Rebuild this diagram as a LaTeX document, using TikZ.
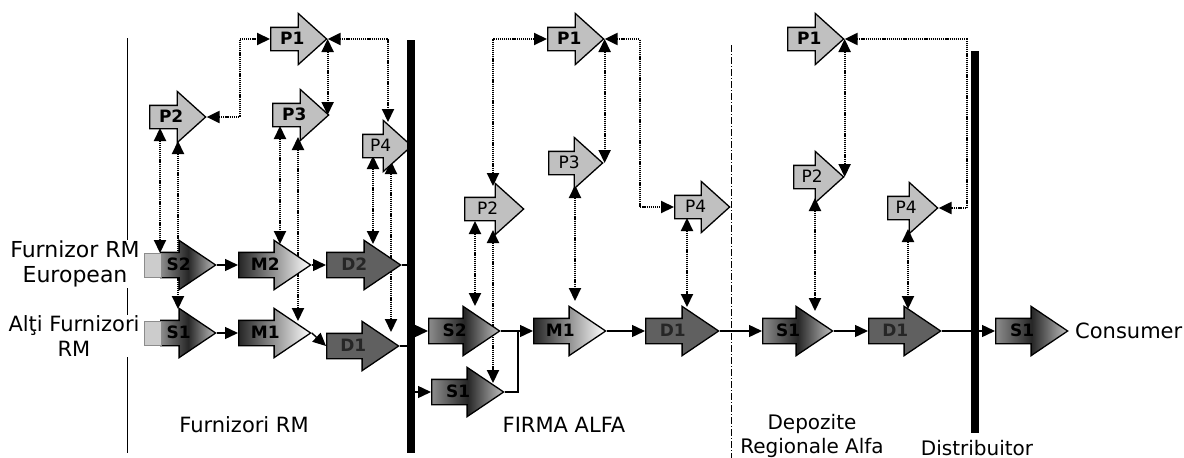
\documentclass[tikz,border=0pt]{standalone}
\usepackage{fontspec}
\setmainfont{DejaVu Sans}
\usetikzlibrary{shapes.arrows, arrows.meta, positioning, calc, backgrounds}
\definecolor{pgray}{RGB}{192,192,192}
\definecolor{dgray}{RGB}{96,96,96}
\tikzset{
  blk/.style={single arrow, draw=black, line width=1.3pt, anchor=tail, inner xsep=2pt, inner ysep=6pt,
    text height=11pt, text depth=1pt,
    minimum width=48pt, single arrow head extend=12pt, single arrow tip angle=68,
    font=\bfseries\fontsize{17}{17}\selectfont},
  pblk/.style={blk, fill=pgray, minimum height=56pt, inner ysep=5pt, minimum width=50pt,
    single arrow head extend=14pt, single arrow tip angle=84},
  sblk/.style={blk, minimum height=72pt, left color=black!45, right color=black!25, middle color=black!85},
  mblk/.style={blk, minimum height=72pt, left color=black!85, right color=white},
  dblk/.style={blk, minimum height=73pt, fill=dgray, text=black!85},
  plain/.style={font=\fontsize{17}{17}\selectfont},
  flow/.style={line width=1.4pt, -{Triangle[length=13pt,width=12pt]}},
  dlink/.style={line width=2.1pt, dash pattern=on 1.2pt off 0.9pt,
    {Triangle[length=13pt,width=12pt]}-{Triangle[length=13pt,width=12pt]}},
  bar/.style={fill=black, inner sep=0pt, minimum width=8pt},
  lbl/.style={font=\fontsize{20}{24}\selectfont, align=center, fill=white, inner sep=1pt}
}

\begin{document}
\begin{tikzpicture}[x=1pt, y=-1pt]
  \useasboundingbox (0,0) rectangle (1184,458);

  % boundary lines
  \draw[line width=0.8pt] (127,38) -- (127,453);
  \draw[line width=0.8pt, dash pattern=on 7pt off 2pt on 1pt off 2pt] (731,45) -- (731,458);

  % Furnizori RM
  \node[pblk] (fp1) at (270,39) {P1};
  \node[pblk] (fp2) at (149,117) {P2};
  \node[pblk] (fp3) at (272,115) {P3};
  \node[pblk, plain, minimum height=49pt] (fp4) at (362,146) {P4};
  \node[sblk, minimum height=55pt, inner xsep=0pt] (fs2) at (160,265) {S2};
  \node[sblk, minimum height=55pt, inner xsep=0pt] (fs1) at (160,333) {S1};
  \node[mblk] (fm2) at (238,265) {M2};
  \node[mblk] (fm1) at (238,333) {M1};
  \node[dblk, minimum height=74pt] (fd2) at (326,265) {D2};
  \node[dblk, minimum height=72pt] (fd1) at (326,346) {D1};
  \filldraw[fill=black!20, draw=black!45, line width=1pt] ($(fs2.tail)+(-16,-12)$) rectangle ($(fs2.tail)+(1,12)$);
  \filldraw[fill=black!20, draw=black!45, line width=1pt] ($(fs1.tail)+(-16,-12)$) rectangle ($(fs1.tail)+(1,12)$);

  % FIRMA ALFA
  \node[pblk] (ap1) at (547,39) {P1};
  \node[pblk, plain, minimum height=59pt] (ap2) at (464,209) {P2};
  \node[pblk, plain, minimum height=54pt] (ap3) at (548,163) {P3};
  \node[pblk, plain, minimum height=55pt] (ap4) at (674,207) {P4};
  \node[sblk, minimum height=71pt] (as2) at (428,331) {S2};
  \node[sblk] (as1) at (431,392) {S1};
  \node[mblk] (am1) at (533,331) {M1};
  \node[dblk] (ad1) at (645,331) {D1};

  % Depozite Regionale Alfa
  \node[pblk] (dp1) at (787,39) {P1};
  \node[pblk, plain, minimum height=50pt] (dp2) at (793,177) {P2};
  \node[pblk, plain, minimum height=50pt] (dp4) at (887,208) {P4};
  \node[sblk, minimum height=70pt] (ds1) at (762,331) {S1};
  \node[dblk, minimum height=72pt] (dd1) at (868,331) {D1};

  % Distribuitor
  \node[sblk] (cs1) at (995,331) {S1};

  % bars
  \node[bar, minimum height=413pt] (bar1) at (411,246.5) {};
  \node[bar, minimum height=382pt] (bar2) at (975,242) {};

  \begin{scope}[on background layer]
    \draw[dlink] (fp2.tip) -- ++(33,0) |- (fp1.tail);
    \draw[dlink] (fp1.tip) -- (fp1.tip |- fp3.tip);
    \draw[dlink] (fp1.tip) -| ($(fp4.tail)+(26,-24)$);
    \draw[dlink] ($(fp2.tail)+(11,11)$) -- ($(fs2.tail)+(0,-12)$);
    \draw[dlink] ($(fp2.tail)+(29,24)$) -- ($(fs1.tail)+(18,-24)$);
    \draw[dlink] ($(fp3.tail)+(8,11)$) -- ($(fm2.tail)+(42,-21)$);
    \draw[dlink] ($(fp3.tail)+(26,22)$) -- ($(fm1.tail)+(60,-12)$);
    \draw[dlink] ($(fp4.tail)+(11,10)$) -- ($(fd2.tail)+(47,-21)$);
    \draw[dlink] ($(fp4.tail)+(29,15)$) -- ($(fd1.tail)+(65,-14)$);

    \draw[dlink] (ap1.tail) -| ($(ap2.tail)+(29,-23)$);
    \draw[dlink] (ap1.tip) -- (ap1.tip |- ap3.tip);
    \draw[dlink] (ap1.tip) -- ++(35,0) |- (ap4.tail);
    \draw[dlink] ($(ap2.tail)+(11,12)$) -- ($(as2.tail)+(47,-25)$);
    \draw[dlink] ($(ap2.tail)+(29,21)$) -- ($(as1.tail)+(62,-9)$);
    \draw[dlink] ($(ap3.tail)+(27,22)$) -- ($(am1.tail)+(42,-30)$);
    \draw[dlink] ($(ap4.tail)+(13,11)$) -- ($(ad1.tail)+(42,-24)$);

    \draw[dlink] (dp1.tip) -- (dp1.tip |- dp2.tip);
    \draw[dlink] (dp1.tip) -- ++(122,0) |- (dp4.tip);
    \draw[dlink] ($(dp2.tail)+(22,21)$) -- ($(ds1.tail)+(53,-20)$);
    \draw[dlink] ($(dp4.tail)+(21,21)$) -- ($(dd1.tail)+(40,-22)$);

    \coordinate (join) at ($(am1.tail)+(-15,0)$);
    \draw[line width=1.4pt] (as2.tip) -- (join);
    \draw[line width=1.4pt] (as1.tip) -| (join);
    \draw[line width=1.4pt] (fd2.tip) -- (fd2.tip -| bar1.west);
    \draw[line width=1.4pt] (fd1.tip) -- (fd1.tip -| bar1.west);
  \end{scope}

  \draw[flow] (fs2.tip) -- (fm2.tail);
  \draw[flow] (fm2.tip) -- (fd2.tail);
  \draw[flow] (fs1.tip) -- (fm1.tail);
  \draw[flow] (fm1.tip) -- (fd1.tail);
  \draw[flow] (bar1.east |- as2.tail) -- (as2.tail);
  \draw[flow] (bar1.east |- as1.tail) -- (as1.tail);
  \draw[flow] (join) -- (am1.tail);
  \draw[flow] (am1.tip) -- (ad1.tail);
  \draw[flow] (ad1.tip) -- (ds1.tail);
  \draw[flow] (ds1.tip) -- (dd1.tail);
  \draw[flow] (dd1.tip) -- (cs1.tail);

  % labels
  \node[lbl, font=\fontsize{22}{25}\selectfont] (leu) at (75,264) {Furnizor RM\\European};
  \node[lbl, font=\fontsize{21}{25}\selectfont] (lalt) at (74,336) {Alţi Furnizori\\RM};
  \node[lbl, font=\fontsize{21}{24}\selectfont] (lfurn) at (244,425) {Furnizori RM};
  \node[lbl, font=\fontsize{21}{24}\selectfont] (lfirma) at (564,425) {FIRMA ALFA};
  \node[lbl] (ldep) at (812,436) {Depozite\\Regionale Alfa};
  \node[lbl] (ldist) at (977,448) {Distribuitor};
  \node[lbl, anchor=west, inner sep=0pt, font=\fontsize{21}{25}\selectfont] (lcons) at (1075,331) {Consumer};
\end{tikzpicture}
\end{document}
